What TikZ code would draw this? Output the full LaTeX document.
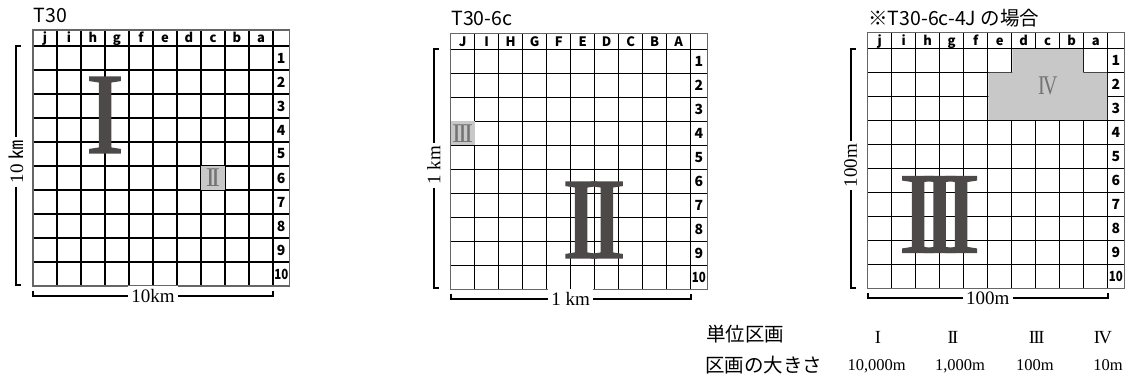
\documentclass[tikz,border=0pt]{standalone}
\usepackage{fontspec}
\setmainfont{Liberation Serif}
\newfontfamily\jpfont{Noto Sans CJK JP}
\newfontfamily\romfont{Liberation Serif}[FakeBold=1.5]
\definecolor{numgray}{RGB}{77,73,73}
\definecolor{cellgray}{RGB}{200,200,200}

\begin{document}
\begin{tikzpicture}[x=1pt,y=-1pt,
  gline/.style={line width=1.4pt},
  frame/.style={line width=1.1pt,black!60},
  hdr/.style={font=\jpfont\bfseries\fontsize{13}{13}\selectfont,anchor=base,inner sep=0pt},
  rownum/.style={font=\jpfont\bfseries\fontsize{14}{14}\selectfont,inner sep=0pt},
  title/.style={font=\jpfont\fontsize{19.5}{20}\selectfont,anchor=base west,inner sep=0pt},
  bigrom/.style={font=\romfont\fontsize{115}{115}\selectfont,text=numgray,inner sep=0pt},
  smallrom/.style={font=\fontsize{27}{27}\selectfont,text=black!55,inner sep=0pt},
  scalebar/.style={line width=2pt},
  scalelab/.style={font=\fontsize{19}{19}\selectfont,fill=white,inner sep=3pt},
  tablab/.style={font=\jpfont\fontsize{19.5}{20}\selectfont,anchor=west,inner sep=0pt},
  tabrom/.style={font=\fontsize{18.5}{19}\selectfont,anchor=base,inner sep=0pt},
  tabval/.style={font=\fontsize{16.5}{17}\selectfont,anchor=base,inner sep=0pt}]
  \useasboundingbox[fill=white] (0,0) rectangle (1129,378);

  % T30
  \begin{scope}[shift={(33,30)}]
    \node[title] (a-title) at (0.5,-8) {T30};
    \foreach \k in {1,...,10} \draw[gline] ({24*\k},0) -- ({24*\k},256);
    \foreach \k in {0,...,9} \draw[gline] (0,{16+24*\k}) -- (256.5,{16+24*\k});
    \fill[cellgray] (168,136) rectangle (192,160);
    \draw[frame] (0,0) rectangle (256.5,256);
    \foreach \c [count=\i] in {j,i,h,g,f,e,d,c,b,a} \node[hdr] (a-h\i) at ({24*\i-12},12.5) {\c};
    \foreach \r in {1,...,9} \node[rownum] (a-n\r) at (248.25,{4+24*\r}) {\r};
    \node[rownum] (a-n10) at (248.25,244) {\scalebox{.82}[1]{10}};
    \node[bigrom] (a-big) at (72,85) {I};
    \node[smallrom] (a-small) at (180,148) {I\kern-.13em I};
    % 縮尺
    \coordinate (a-vt) at (-17,16); \coordinate (a-vb) at (-17,255);
    \node[scalelab,rotate=90] (a-vlab) at (-17,132) {10 {\jpfont ㎞}};
    \draw[scalebar] (a-vt) ++(5,0) -- (a-vt) -- (a-vlab) -- (a-vb) -- ++(5,0);
    \coordinate (a-hl) at (0,265.5); \coordinate (a-hr) at (240.3,265.5);
    \node[scalelab] (a-hlab) at (120,265.5) {10km};
    \draw[scalebar] (a-hl) ++(0,-5) -- (a-hl) -- (a-hlab) -- (a-hr) -- ++(0,-5);
  \end{scope}

  % T30-6c
  \begin{scope}[shift={(450.7,33.3)}]
    \node[title] (b-title) at (0.5,-7.5) {T30-6c};
    \foreach \k in {1,...,10} \draw[gline] ({24*\k},0) -- ({24*\k},256);
    \foreach \k in {0,...,9} \draw[gline] (0,{16+24*\k}) -- (256.5,{16+24*\k});
    \fill[cellgray] (0,88) rectangle (24,112);
    \draw[frame] (0,0) rectangle (256.5,256);
    \foreach \c [count=\i] in {J,I,H,G,F,E,D,C,B,A} \node[hdr] (b-h\i) at ({24*\i-12},13) {\c};
    \foreach \r in {1,...,9} \node[rownum] (b-n\r) at (248.25,{4+24*\r}) {\r};
    \node[rownum] (b-n10) at (248.25,244) {\scalebox{.82}[1]{10}};
    \node[bigrom] (b-big) at (143.3,186.7) {I\kern-.11em I};
    \node[smallrom] (b-small) at (12,100) {I\kern-.11em I\kern-.11em I};
    % 縮尺
    \coordinate (b-vt) at (-17,16); \coordinate (b-vb) at (-17,255);
    \node[scalelab,rotate=90] (b-vlab) at (-17,132) {1 km};
    \draw[scalebar] (b-vt) ++(5,0) -- (b-vt) -- (b-vlab) -- (b-vb) -- ++(5,0);
    \coordinate (b-hl) at (0,265.5); \coordinate (b-hr) at (240.3,265.5);
    \node[scalelab] (b-hlab) at (120,265.5) {1 km};
    \draw[scalebar] (b-hl) ++(0,-5) -- (b-hl) -- (b-hlab) -- (b-hr) -- ++(0,-5);
  \end{scope}

  % T30-6c-4J
  \begin{scope}[shift={(867.7,32.5)}]
    \node[title] (c-title) at (0.5,-7) {※T30-6c-4J の場合};
    \foreach \k in {1,...,10} \draw[gline] ({24*\k},0) -- ({24*\k},256);
    \foreach \k in {0,...,9} \draw[gline] (0,{16+24*\k}) -- (256.5,{16+24*\k});
    \fill[cellgray] (144.7,16.7) rectangle (215.3,40.7) (120.7,40) rectangle (239.3,87.3);
    \draw[frame] (0,0) rectangle (256.5,256);
    \foreach \c [count=\i] in {j,i,h,g,f,e,d,c,b,a} \node[hdr] (c-h\i) at ({24*\i-12},12.5) {\c};
    \foreach \r in {1,...,9} \node[rownum] (c-n\r) at (248.25,{4+24*\r}) {\r};
    \node[rownum] (c-n10) at (248.25,244) {\scalebox{.82}[1]{10}};
    \node[bigrom] (c-big) at (71.8,182) {I\kern-.146em I\kern-.146em I};
    \node[smallrom] (c-small) at (180,53) {\scalebox{.75}[1]{I\kern-.1em V}};
    % 縮尺
    \coordinate (c-vt) at (-17,16); \coordinate (c-vb) at (-17,255);
    \node[scalelab,rotate=90] (c-vlab) at (-17,133) {100m};
    \draw[scalebar] (c-vt) ++(5,0) -- (c-vt) -- (c-vlab) -- (c-vb) -- ++(5,0);
    \coordinate (c-hl) at (0,265.5); \coordinate (c-hr) at (240.3,265.5);
    \node[scalelab] (c-hlab) at (120,265.5) {100m};
    \draw[scalebar] (c-hl) ++(0,-5) -- (c-hl) -- (c-hlab) -- (c-hr) -- ++(0,-5);
  \end{scope}

  % 区画の表
  \node[tablab] (t-unit) at (706,334) {単位区画};
  \node[tablab] (t-size) at (705,365) {区画の大きさ};
  \node[tabrom] (t-r1) at (878,343) {I};
  \node[tabrom] (t-r2) at (953,343) {I\kern-.09em I};
  \node[tabrom] (t-r3) at (1036.7,343) {I\kern-.08em I\kern-.08em I};
  \node[tabrom] (t-r4) at (1103,343) {I\kern-.08em V};
  \node[tabval] (t-v1) at (876.7,370.5) {10,000m};
  \node[tabval] (t-v2) at (960,370.5) {1,000m};
  \node[tabval] (t-v3) at (1035,370.5) {100m};
  \node[tabval] (t-v4) at (1108,370.5) {10m};
\end{tikzpicture}
\end{document}
